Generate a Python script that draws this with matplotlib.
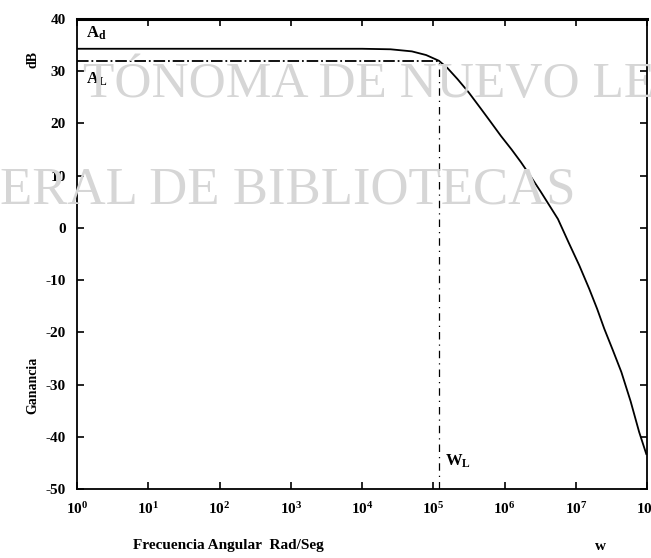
import numpy as np
import matplotlib
matplotlib.use("Agg")
import matplotlib.pyplot as plt

# ---- data ----
log_w = [0.0, 4.0, 4.4, 4.7, 4.9, 5.08, 5.2, 5.34, 5.5, 5.67, 5.8, 5.95, 6.1, 6.23, 6.37,
         6.51, 6.63, 6.75, 6.9, 7.05, 7.19, 7.3, 7.40, 7.52, 7.64, 7.77, 7.89, 7.99]
gain_db = [34.3, 34.3, 34.2, 33.8, 33.1, 32.0, 30.6, 28.5, 25.9, 22.8, 20.4, 17.6, 15.0, 12.6, 9.8,
           6.9, 4.3, 1.7, -2.8, -7.2, -11.7, -15.5, -19.3, -23.4, -27.6, -33.2, -39.1, -43.3]
A_L = 32.0
log_wL = 5.08
xtick_exp = [0, 1, 2, 3, 4, 5, 6, 7, 8]
yticks = [-50, -40, -30, -20, -10, 0, 10, 20, 30, 40]

plt.rcParams['mathtext.fontset'] = 'custom'
plt.rcParams['mathtext.rm'] = 'Liberation Serif:bold'
plt.rcParams['mathtext.it'] = 'Liberation Serif:bold'
plt.rcParams['mathtext.bf'] = 'Liberation Serif:bold'
plt.rcParams['font.family'] = ['Liberation Serif', 'DejaVu Serif']
plt.rcParams['font.weight'] = 'bold'

fig = plt.figure(figsize=(6.51, 5.58), dpi=100)

# scan watermark (light grey)
fig.text(83/651, 1 - 97/558, "TÓNOMA DE NUEVO LEÓ", fontsize=37, color='#d6d6d6',
         fontweight='normal', ha='left', va='baseline', zorder=0)
fig.text(0/651, 1 - 203/558, "ERAL DE BIBLIOTECAS", fontsize=38, color='#d6d6d6',
         fontweight='normal', ha='left', va='baseline', zorder=0)

ax = fig.add_axes([77/651, 1 - 489/558, (647 - 77)/651, (489 - 19)/558])
ax.patch.set_alpha(0)

w = 10.0 ** np.array(log_w)
ax.plot(w, gain_db, color='black', lw=1.3)
wL = 10.0 ** log_wL
ax.plot([1, wL], [A_L, A_L], color='black', lw=1.3, ls='-.')
ax.plot([wL, wL], [-50, A_L], color='black', lw=0.9, ls=(0, (6, 4, 1, 4)))

ax.set_xscale('log')
ax.set_xlim(1, 1e8)
ax.set_ylim(-50, 40)
ax.set_xticks([10.0 ** e for e in xtick_exp])
ax.set_xticklabels([r'$10^{%d}$' % e for e in xtick_exp], fontsize=11)
ax.minorticks_off()
ax.set_yticks(yticks)
ax.set_yticklabels([str(v) for v in yticks], fontsize=11, fontweight='bold')
ax.tick_params(direction='in', length=5, width=1.2, top=True, right=True, pad=8)
ax.tick_params(axis='x', pad=9)
for s in ax.spines.values():
    s.set_linewidth(1.3)
ax.spines['top'].set_linewidth(2.2)

ax.text(1.35, 35.6, r'$A_{d}$', fontsize=12, va='bottom')
ax.text(1.35, 26.8, r'$A_{L}$', fontsize=12, va='bottom')
ax.text(10 ** 5.17, -46.3, r'$W_{L}$', fontsize=12, va='bottom')

fig.text(33/651, 1 - 60/558, 'dB', rotation=90, fontsize=10, ha='center', va='center')
fig.text(33/651, 1 - 385/558, 'Ganancia', rotation=90, fontsize=10, ha='center', va='center')
fig.text(133/651, 1 - 545/558, 'Frecuencia Angular  Rad/Seg', fontsize=11, ha='left', va='center')
fig.text(600/651, 1 - 547/558, 'w', fontsize=11, ha='center', va='center')

fig.savefig('out.png', dpi=100)
